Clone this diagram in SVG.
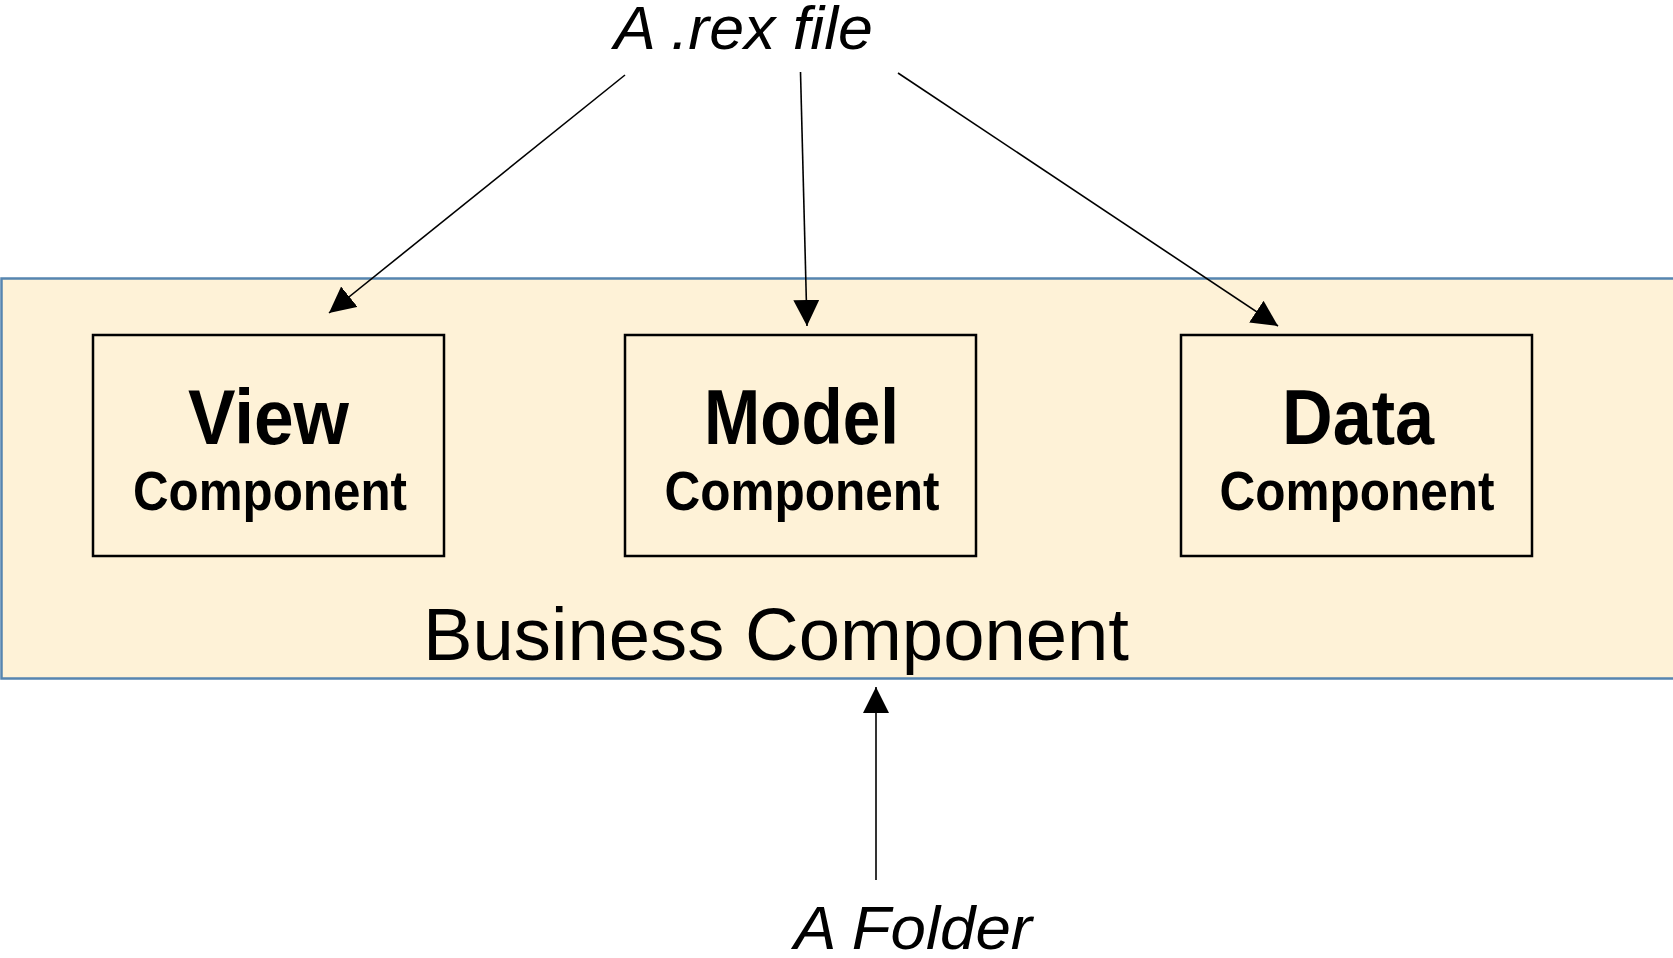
<svg xmlns="http://www.w3.org/2000/svg" width="1673" height="958" viewBox="0 0 1673 958">
  <style>
    .label { font-family: "Liberation Sans", Arial, sans-serif; fill: #000; }
    .title { font-weight: bold; font-size: 78px; }
    .sub { font-weight: bold; font-size: 55px; }
    .ext { font-style: italic; font-size: 62px; }
    .box { fill: none; stroke: #000; stroke-width: 2.5; }
    .conn { stroke: #000; stroke-width: 1.6; fill: none; marker-end: url(#head); }
  </style>
  <defs>
    <marker id="head" markerUnits="userSpaceOnUse" markerWidth="27" markerHeight="27" refX="26" refY="13" orient="auto">
      <path d="M0,0 L26,13 L0,26 Z" fill="#000"/>
    </marker>
  </defs>

  <rect width="1673" height="958" fill="#fff"/>

  <!-- container: business component -->
  <g id="business">
    <rect x="1.5" y="278.5" width="1680" height="400" fill="#fef2d7" stroke="#5685b0" stroke-width="2.5"/>
    <text class="label" x="423" y="660" font-size="74" textLength="706" lengthAdjust="spacingAndGlyphs">Business Component</text>
  </g>

  <g id="view">
    <rect class="box" x="93" y="335" width="351" height="221"/>
    <text class="label title" x="268.5" y="444" text-anchor="middle" textLength="161" lengthAdjust="spacingAndGlyphs">View</text>
    <text class="label sub" x="270" y="510" text-anchor="middle" textLength="274" lengthAdjust="spacingAndGlyphs">Component</text>
  </g>

  <g id="model">
    <rect class="box" x="625" y="335" width="351" height="221"/>
    <text class="label title" x="801.5" y="444" text-anchor="middle" textLength="195" lengthAdjust="spacingAndGlyphs">Model</text>
    <text class="label sub" x="802" y="510" text-anchor="middle" textLength="275" lengthAdjust="spacingAndGlyphs">Component</text>
  </g>

  <g id="data">
    <rect class="box" x="1181" y="335" width="351" height="221"/>
    <text class="label title" x="1358" y="444" text-anchor="middle" textLength="152" lengthAdjust="spacingAndGlyphs">Data</text>
    <text class="label sub" x="1357" y="510" text-anchor="middle" textLength="275" lengthAdjust="spacingAndGlyphs">Component</text>
  </g>

  <g id="rex-file">
    <text class="label ext" x="614" y="49" textLength="259" lengthAdjust="spacingAndGlyphs">A .rex file</text>
  </g>

  <g id="folder">
    <text class="label ext" x="794" y="949" textLength="238" lengthAdjust="spacingAndGlyphs">A Folder</text>
  </g>

  <g id="connectors">
    <line class="conn" x1="625" y1="75" x2="329" y2="313"/>
    <line class="conn" x1="800.5" y1="72" x2="807" y2="326"/>
    <line class="conn" x1="898" y1="73" x2="1278" y2="326"/>
    <line class="conn" x1="876" y1="880" x2="876" y2="687"/>
  </g>
</svg>
